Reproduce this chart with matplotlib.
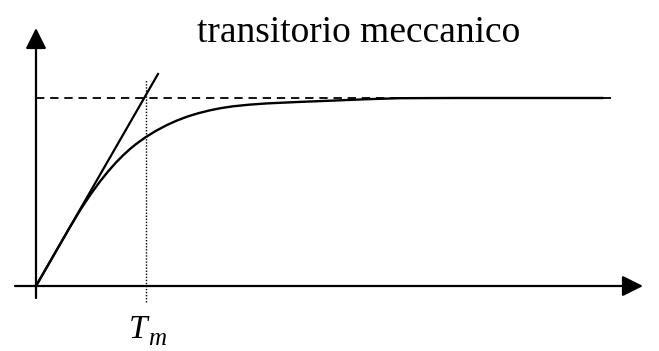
import numpy as np
import matplotlib.pyplot as plt

plt.rcParams['lines.scale_dashes'] = False

# step response read in pixel-like units (origin at the axes corner)
t_pts = [0, 17, 34, 45, 55, 64, 72, 80, 87, 94, 100, 109, 120, 131, 141, 151,
         162, 174, 185, 197, 214, 231, 264, 297, 331, 364, 420, 567]
y_pts = [0, 29.5, 59, 77.2, 92.2, 104.5, 114.5, 123.5, 130.6, 137.0, 141.9,
         148.4, 155.2, 161.0, 165.5, 169.3, 172.7, 175.7, 177.9, 179.7, 181.4,
         182.6, 184.1, 185.4, 186.8, 187.8, 188, 188]

y_final = 188
tangent_end = (122, 212)
Tm = 110
title = "transitorio meccanico"

fig = plt.figure(figsize=(6.59, 3.51), dpi=100)
ax = fig.add_axes([0, 0, 1, 1])
ax.set_xlim(-36, 623)
ax.set_ylim(-65, 286)
ax.axis('off')

# axes with arrow heads
arrow = dict(arrowstyle='-|>,head_length=0.9,head_width=0.45', lw=1.6,
             color='black', shrinkA=0, shrinkB=0, mutation_scale=14)
ax.annotate('', xy=(607, 0), xytext=(-21, 0), arrowprops=arrow)
ax.annotate('', xy=(0, 258), xytext=(0, -12), arrowprops=arrow)

# asymptote, tangent at origin and time constant marker
ax.plot([0, 579], [y_final, y_final], color='black', lw=1.3, dashes=(6, 4.2))
ax.plot([0, tangent_end[0]], [0, tangent_end[1]], color='black', lw=1.6)
ax.plot([Tm, Tm], [-16, 206], color='black', lw=1.0, dashes=(1, 1.2))

ax.plot(t_pts, y_pts, color='black', lw=1.7, solid_joinstyle='round',
        solid_capstyle='round')

ax.text(323, 244, title, ha='center', va='baseline',
        family='Liberation Serif', fontsize=27)
ax.text(93, -52, 'T', ha='left', va='baseline',
        family='Liberation Serif', style='italic', fontsize=24)
ax.text(112, -59, 'm', ha='left', va='baseline',
        family='Liberation Serif', style='italic', fontsize=18)

fig.savefig('out.png', dpi=100)
